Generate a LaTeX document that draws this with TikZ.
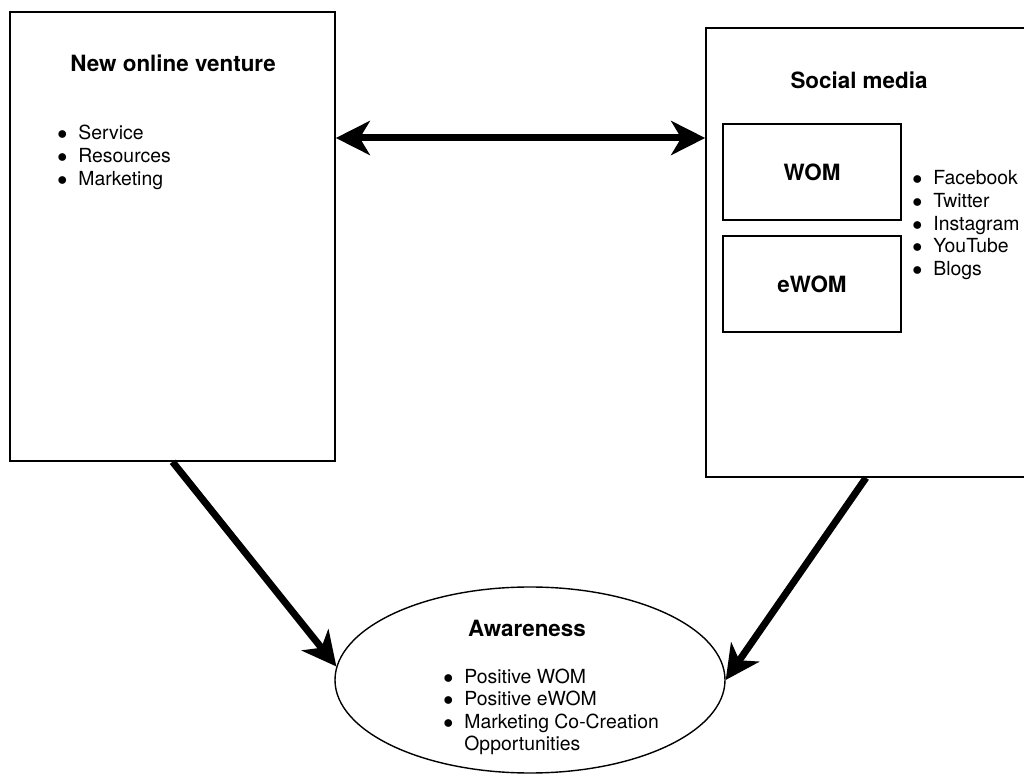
\documentclass[tikz,border=0pt]{standalone}
\usepackage{fontspec}
\setmainfont{TeX Gyre Heros}
\usetikzlibrary{shapes.geometric, arrows.meta, positioning, calc}

\newcommand{\bulletlist}[1]{\begin{tabular}[t]{@{}l@{\hspace{5.5pt}}l@{}}#1\end{tabular}}
\newcommand{\dotitem}{$\bullet$}

\begin{document}
\begin{tikzpicture}[x=0.5pt, y=-0.5pt,
    >={Stealth[length=17pt, width=17pt, inset=5pt]},
    box/.style={draw, line width=0.8pt, inner sep=0pt},
    title/.style={font=\fontsize{11.2}{13}\selectfont\bfseries},
    items/.style={font=\fontsize{9.7}{11.3}\selectfont, anchor=base west, inner sep=0pt},
    bigarrow/.style={line width=3.5pt}]
    \clip (0,0) rectangle (1024,775);

    % Venture box
    \node[box, minimum width=162.5pt, minimum height=224.5pt] (venture) at (172.5,236.5) {};
    \node[title] (ventureTitle) at (173,63) {New online venture};
    \node[items] (ventureList) at (57,140) {\bulletlist{
        \dotitem & Service\\
        \dotitem & Resources\\
        \dotitem & Marketing}};

    % Social media box
    \node[box, minimum width=160pt, minimum height=224.5pt] (social) at (866,252.5) {};
    \node[title] (socialTitle) at (859,80) {Social media};
    \node[box, title, minimum width=89pt, minimum height=48pt] (wom) at (812,172) {WOM};
    \node[box, title, minimum width=89pt, minimum height=48pt] (ewom) at (812,284) {eWOM};
    \node[items] (socialList) at (912,185) {\bulletlist{
        \dotitem & Facebook\\
        \dotitem & Twitter\\
        \dotitem & Instagram\\
        \dotitem & YouTube\\
        \dotitem & Blogs}};

    % Awareness
    \node[ellipse, draw, line width=0.7pt, inner sep=0pt,
          minimum width=195pt, minimum height=93pt] (aware) at (530,680) {};
    \node[title] (awareTitle) at (527,628) {Awareness};
    \node[items] (awareList) at (443,683) {\bulletlist{
        \dotitem & Positive WOM\\
        \dotitem & Positive eWOM\\
        \dotitem & Marketing Co-Creation\\
                 & Opportunities}};

    % Links
    \coordinate (linkY) at (0,138);
    \draw[bigarrow, <->] (venture.east |- linkY) -- (social.west |- linkY);
    \draw[bigarrow, ->] (venture.south) -- (aware.176);
    \draw[bigarrow, ->] (social.south) -- (aware.east);
\end{tikzpicture}
\end{document}
